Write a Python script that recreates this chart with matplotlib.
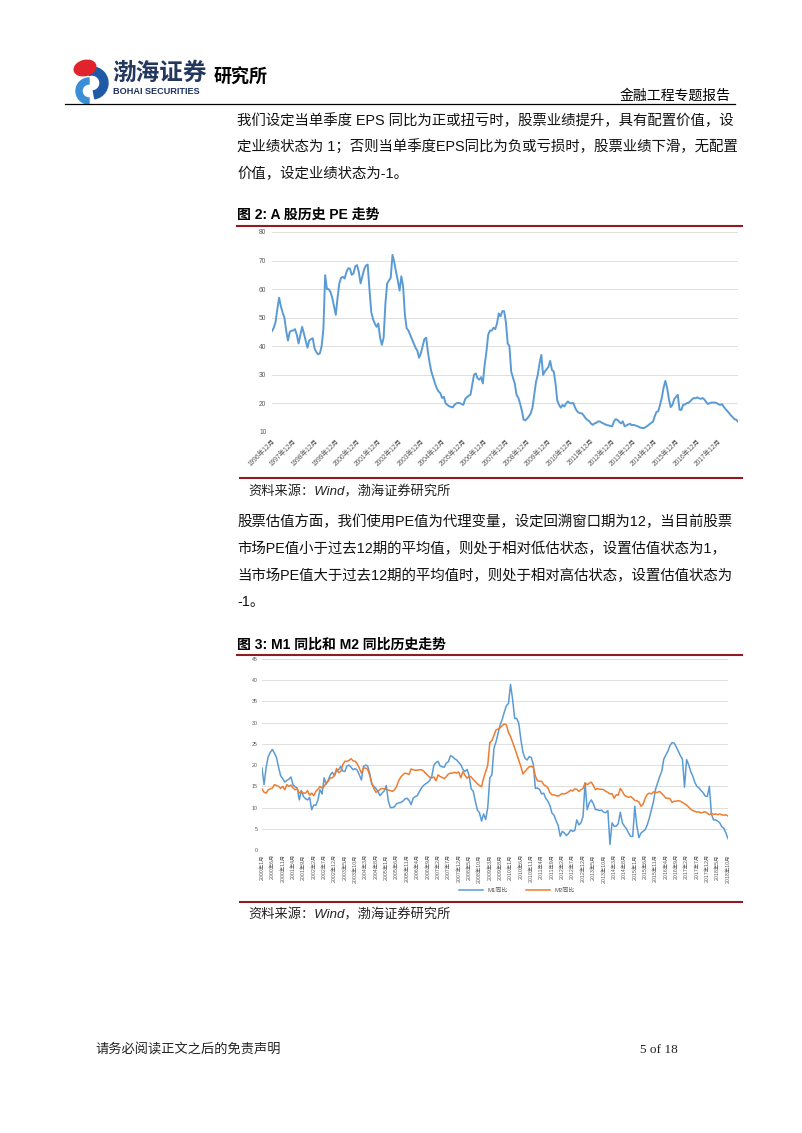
import matplotlib
matplotlib.use('Agg')
import matplotlib.pyplot as plt
from matplotlib.patches import Ellipse, Wedge
from matplotlib.lines import Line2D

plt.rcParams['font.family'] = ['Liberation Sans', 'Noto Sans CJK SC']
plt.rcParams['axes.unicode_minus'] = False

# ---------------- 数据 ----------------
# 图2: A股历史PE, 月度, 1996年12月 ~ 2018年11月
pe_values = [
    45.3, 46.5, 48.5, 53, 57, 54, 51.8, 50, 45.5, 42, 45, 45.5,
    45.5, 46, 44, 41, 44, 46.8, 44.5, 42, 39.5, 42, 42.5, 42.8,
    39.3, 38, 37.2, 37.5, 40, 46, 64.9, 60, 60, 59, 57, 54,
    51, 57, 62, 64, 64.3, 63.7, 66, 67.3, 67.2, 65, 65.5, 68,
    68.4, 66, 62, 64.5, 67, 68.2, 68.6, 60, 52, 49.5, 48, 46.8,
    48, 43, 40.5, 43, 55, 62, 63, 64, 72, 69.5, 66, 63,
    59.5, 64.5, 61, 51, 46.3, 45.5, 44, 42.5, 41, 39.5, 38.5, 36,
    37.5, 40, 42.5, 43, 38, 34, 31, 29, 27, 25.3, 24.2, 23.6,
    21.9, 22.3, 20, 19.5, 19, 18.8, 18.6, 19.5, 20, 20.2, 20.1, 19.8,
    19.5, 21.5, 22.2, 22.7, 23, 26.5, 30, 30.5, 28.8, 28.3, 29.2, 27,
    33.5, 38, 44, 45.5, 45.5, 46.5, 46, 48, 51.5, 50.5, 52.3, 52.3,
    48.5, 41, 40, 31.2, 29, 27, 23, 22, 20, 17.5, 14.3, 14.1,
    14.7, 15.5, 16.5, 18.5, 23, 27.5, 30, 34, 37, 30, 31.2, 32,
    32.8, 34.9, 31.7, 31.2, 27, 21, 19.5, 18.5, 19.5, 18.9, 20, 20.7,
    20.1, 20, 20.2, 18.6, 17.4, 16.8, 16.6, 16.5, 15.7, 14.8, 14.2, 13.8,
    13, 12.5, 13, 13.2, 13.7, 13.7, 13.3, 13, 12.7, 12.4, 12.3, 12.1,
    12, 13.7, 14.5, 14.2, 13.5, 13, 13.7, 12, 12.3, 12.6, 12.9, 12.4,
    12.5, 12.3, 12.1, 11.8, 11.5, 11.4, 11.4, 11.8, 12.2, 12.7, 13.2, 13.6,
    15.5, 17, 17.3, 19.5, 22, 25.5, 27.9, 25.5, 21.5, 18.7, 19.5, 21.5,
    22.3, 23, 17.8, 17.7, 19.5, 19.6, 20.1, 20.2, 20.7, 21.4, 21.9, 21.8,
    22.1, 21.8, 21.6, 21.9, 21.4, 20.5, 19.8, 20.1, 20.3, 20.3, 20.3, 20.1,
    19.7, 19.5, 19.7, 18.8, 18, 17.3, 16.6, 15.8, 15.2, 14.5, 14.3, 13.6,
]
pe_ticks = [f'{y}年12月' for y in range(1996, 2018)]

# 图3: M1同比 / M2同比, 月度, 2000年1月 ~ 2018年10月
m1_yoy = [
    19.3, 15.4, 19.5, 22, 23, 23.7, 22.8, 21.8, 19.5, 17.5, 16.8, 16,
    16.4, 16.7, 17.2, 15.3, 14.9, 14.6, 11.8, 14, 12.6, 12.1, 11.8, 12.4,
    9.5, 10.6, 10.5, 11.8, 14.2, 13.2, 17, 15.5, 16.5, 17.7, 18.3, 17.5,
    18.7, 18.9, 19.7, 18.6, 18.5, 19.8, 20, 19.5, 18.9, 19.2, 18.8, 17.7,
    16.5, 19.7, 20, 19.8, 18, 15.5, 15, 14.5, 13.8, 12.8, 13.4, 13.9,
    15.2, 11.5, 10, 10, 10.2, 10.9, 11.1, 11.2, 11.5, 12, 12.2, 11.7,
    10.7, 12.2, 12.6, 12.8, 13.8, 14.6, 15.2, 15.6, 15.9, 16.4, 17.4, 20,
    20.6, 20.9, 19.8, 19.6, 19.5, 20.5, 20.8, 22.2, 22, 21.5, 21.2, 20.6,
    20.1, 19, 18.5, 19, 17.5, 14.4, 13.8, 11.5, 9.4, 8.8, 6.8, 8.5,
    7.2, 10, 17, 17.7, 24, 25.5, 27.5, 29.5, 30.8, 32.5, 34, 34.5,
    39, 35.5, 31, 31, 29.8, 26, 23, 21.6, 21.2, 22, 21.8, 20.2,
    14.5, 14.6, 14.3, 13.2, 13.4, 12.2, 11.5, 10.5, 8.7, 8.2, 6.9, 5.8,
    3.2, 4.4, 4, 3.4, 3.9, 4.7, 4.4, 4.6, 7.1, 5.9, 6.4, 7.9,
    15.8, 9.5, 11.1, 11.8, 10.9, 9.5, 9.5, 9.3, 9.4, 8.9, 8.8, 9.3,
    1.3, 6.4, 5.6, 5.6, 6.2, 8.9, 6.4, 5.6, 5, 4, 3.2, 3.2,
    10.3, 5.6, 2.9, 4, 4.4, 4.8, 5.9, 7.5, 9.4, 11.4, 14.3, 15.8,
    17.3, 18.5, 21.4, 22.4, 23.3, 24.6, 25.3, 25.2, 24.3, 23.3, 22.2, 21.4,
    14.8, 21.3, 20.1, 18.5, 17.4, 15.9, 15, 14.6, 14, 13.5, 12.7, 12.6,
    15, 8.5, 7.1, 7.1, 6.8, 6.4, 5.5, 5.1, 4, 2.7,
]
m2_yoy = [
    14.4, 13.6, 13.4, 14.2, 14.4, 14.6, 15.4, 15.2, 15, 14.5, 15, 14.2,
    15.4, 15, 15.3, 14.6, 14.2, 14.4, 13.4, 13.8, 13.4, 13.4, 14, 12.9,
    13.4, 12.8, 13.8, 14.3, 15, 14.6, 15, 15.8, 16.2, 17, 17, 17.6,
    19.2, 18.2, 18.5, 20.1, 20.9, 20.9, 21.1, 21.5, 21, 20.9, 20.3, 19.3,
    18.1, 19.3, 19.3, 19, 17.6, 15.8, 14.5, 13.6, 13.8, 14.3, 14.5, 14.4,
    14.3, 14.1, 14, 13.8, 14.2, 15, 16.3, 17.2, 17.7, 18.1, 18, 17.8,
    19.1, 18.9, 18.8, 18.8, 18.9, 18.9, 18.6, 18.1, 17.6, 17.1, 17, 17.2,
    16.3, 17.7, 17.3, 17.1, 16.8, 17.3, 17.9, 18.1, 18.1, 18.3, 18.1, 18.4,
    17, 18.5, 17.6, 16.9, 17.4, 17.2, 16.6, 16.1, 15.6, 15.2, 14.9, 16.9,
    18.5, 20, 25.3, 25.8, 27, 28.3, 28.5, 28.8, 29.3, 29.7, 29.5, 27.7,
    26.7, 25.4, 24, 22.6, 21.1, 19.7, 17.9, 18.5, 19.1, 19.6, 19.7, 19.5,
    17.4, 16.3, 16.2, 16.2, 15.4, 15.1, 14.7, 13.5, 13, 13, 12.8, 12.7,
    13, 13.3, 13.2, 13.4, 13.7, 14.1, 13.9, 14.4, 14.3, 13.8, 14.2, 14.5,
    15.8, 15.4, 15.7, 16, 15.2, 14.2, 14.5, 14.3, 14.3, 14.2, 13.8, 13.6,
    13.2, 13.3, 12.2, 13, 12.9, 14.5, 13.8, 12.9, 12.6, 12.4, 12.6, 12.2,
    11.7, 11.6, 11.3, 10.3, 10.8, 12.2, 13.1, 13.4, 13.2, 13.7, 13.5, 13.6,
    13.8, 13.3, 12.8, 12.2, 12.2, 12.1, 11.2, 11.5, 11.5, 11.6, 11.5, 11.2,
    10.9, 10.6, 10.1, 9.6, 9.3, 9.1, 8.9, 9, 8.7, 8.9, 9, 8.7,
    8.3, 8.6, 8.4, 8.5, 8.3, 8.5, 8.3, 8.2, 8.3, 8.0,
]
m_tick_pos = list(range(0, len(m1_yoy), 5))
m_ticks = [f'{2000 + i // 12}年{i % 12 + 1}月' for i in m_tick_pos]
m_names = ['M1同比', 'M2同比']

# 正文
para1 = ['我们设定当单季度 EPS 同比为正或扭亏时，股票业绩提升，具有配置价值，设',
         '定业绩状态为 1；否则当单季度EPS同比为负或亏损时，股票业绩下滑，无配置',
         '价值，设定业绩状态为-1。']
para2 = ['股票估值方面，我们使用PE值为代理变量，设定回溯窗口期为12，当目前股票',
         '市场PE值小于过去12期的平均值，则处于相对低估状态，设置估值状态为1，',
         '当市场PE值大于过去12期的平均值时，则处于相对高估状态，设置估值状态为',
         '-1。']

# ---------------- 页面 ----------------
W, H = 802, 1133
fig = plt.figure(figsize=(W / 100, H / 100), dpi=100)
page = fig.add_axes([0, 0, 1, 1])
page.set_xlim(0, W)
page.set_ylim(H, 0)
page.axis('off')

def box(x0, y0, x1, y1):  # 像素框 -> figure 坐标
    return [x0 / W, 1 - y1 / H, (x1 - x0) / W, (y1 - y0) / H]

RED = '#8E1C22'
BLUE = '#5B9BD5'
ORANGE = '#ED7D31'

# 页眉 logo
page.add_patch(Wedge((92, 83), 16, 250, 80, width=8, color='#1F5AA6'))
page.add_patch(Wedge((89, 91), 13, 90, 270, width=6, color='#3B8ED6'))
page.add_patch(Ellipse((85, 68), 22, 15, angle=-15, color='#E1242B'))
page.text(112, 73, '渤海证券', fontsize=17, color='#24375F', fontweight='bold',
          va='center', ha='left')
page.text(113, 91, 'BOHAI SECURITIES', fontsize=6.6, color='#1D3160', fontweight='bold',
          va='center', ha='left')
page.text(214, 78, '研究所', fontsize=13, color='black', fontweight='bold',
          va='center', ha='left')
page.text(731, 96, '金融工程专题报告', fontsize=10, color='black', va='center', ha='right')
page.plot([65, 735], [104, 104], color='black', lw=0.9)

# 正文段落
for i, s in enumerate(para1):
    page.text(237, 121 + i * 26.5, s, fontsize=10.4, va='center', ha='left', color='#111111')
for i, s in enumerate(para2):
    page.text(237, 522 + i * 26.8, s, fontsize=10.4, va='center', ha='left', color='#111111')

# 图标题 / 红线 / 资料来源
page.text(237, 215, '图 2: A 股历史 PE 走势', fontsize=10, fontweight='bold', va='center')
page.plot([237, 742], [226, 226], color=RED, lw=1.5)
page.plot([240, 742], [478, 478], color=RED, lw=1.5)
page.text(248, 492, '资料来源：Wind，渤海证券研究所', fontsize=9.5, style='italic',
          va='center', color='#222222')

page.text(237, 645, '图 3: M1 同比和 M2 同比历史走势', fontsize=10, fontweight='bold', va='center')
page.plot([237, 742], [655, 655], color=RED, lw=1.5)
page.plot([240, 742], [902, 902], color=RED, lw=1.5)
page.text(248, 915, '资料来源：Wind，渤海证券研究所', fontsize=9.5, style='italic',
          va='center', color='#222222')

# 页脚
page.text(95, 1050, '请务必阅读正文之后的免责声明', fontsize=9.5, va='center', color='#222222')
page.text(640, 1050, '5 of 18', fontsize=9.5, va='center', family='Liberation Serif',
          color='#222222')

# ---------------- 图2 ----------------
ax1 = fig.add_axes(box(272, 232, 738, 432))
ax1.plot(range(len(pe_values)), pe_values, color=BLUE, lw=1.4)
ax1.set_xlim(0, len(pe_values) - 1)
ax1.set_ylim(10, 80)
ax1.set_yticks(range(10, 81, 10))
ax1.set_xticks(range(0, 12 * len(pe_ticks), 12))
ax1.set_xticklabels(pe_ticks, rotation=45, ha='right', rotation_mode='anchor')
ax1.grid(axis='y', color='#D9D9D9', lw=0.6)
ax1.set_axisbelow(True)
for sp in ax1.spines.values():
    sp.set_visible(False)
ax1.tick_params(length=0, labelsize=4.8, colors='#595959', pad=4)

# ---------------- 图3 ----------------
ax2 = fig.add_axes(box(262, 659, 728, 850))
x = range(len(m1_yoy))
ax2.plot(x, m1_yoy, color=BLUE, lw=1.1)
ax2.plot(x, m2_yoy, color=ORANGE, lw=1.1)
ax2.set_xlim(0, len(m1_yoy) - 1)
ax2.set_ylim(0, 45)
ax2.set_yticks(range(0, 46, 5))
ax2.set_xticks(m_tick_pos)
ax2.set_xticklabels(m_ticks, rotation=90, ha='center', va='top')
ax2.grid(axis='y', color='#D9D9D9', lw=0.6)
ax2.set_axisbelow(True)
for sp in ax2.spines.values():
    sp.set_visible(False)
ax2.tick_params(length=0, labelsize=3.8, colors='#595959', pad=3)

handles = [Line2D([], [], color=BLUE, lw=1.1), Line2D([], [], color=ORANGE, lw=1.1)]
ax2.legend(handles, m_names, loc='center', bbox_to_anchor=(517 / W, 1 - 890 / H),
           bbox_transform=fig.transFigure, ncol=2, frameon=False, fontsize=4.3,
           handlelength=4, columnspacing=3, labelcolor='#595959')

fig.savefig('out.png', dpi=100)
